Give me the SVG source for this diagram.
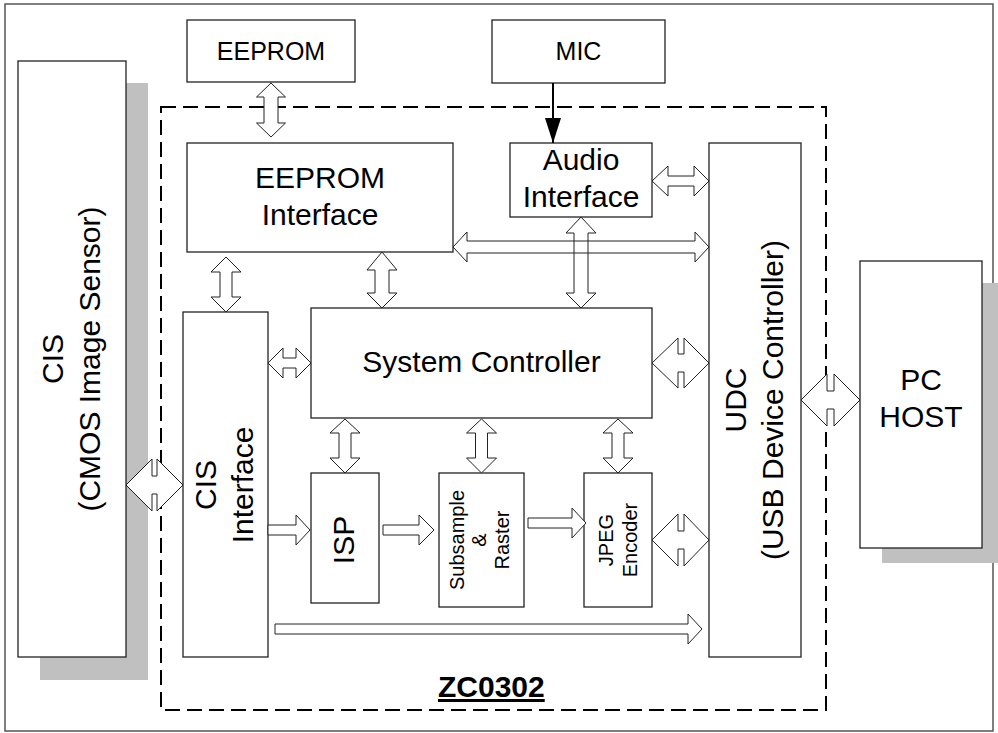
<svg xmlns="http://www.w3.org/2000/svg" width="998" height="733" viewBox="0 0 998 733">
<style>
.box{fill:#fff;stroke:#222;stroke-width:1.3}
.shadow{fill:#c0c0c0;stroke:none}
.arr{fill:#fff;stroke:#222;stroke-width:1}
.arrn{fill:none;stroke:#222;stroke-width:1}
.t{font-family:"Liberation Sans",Arial,sans-serif;fill:#000;text-anchor:middle}
.t30{font-size:30px}
.t25{font-size:25px}
.t20{font-size:20px}
</style>
<defs>
<marker id="ah" markerWidth="26" markerHeight="16" refX="25" refY="8" orient="auto" markerUnits="userSpaceOnUse">
<path d="M0,0 L25,8 L0,16 Z" fill="#000"/>
</marker>
</defs>
<rect x="5" y="4" width="988" height="727" fill="#fff" stroke="#555" stroke-width="1.5"/>
<rect x="161" y="107" width="665" height="603" fill="none" stroke="#000" stroke-width="2" stroke-dasharray="15 7"/>

<g id="cis">
<rect class="shadow" x="40" y="83" width="108" height="597"/>
<rect class="box" x="18" y="61" width="108" height="596"/>
<g transform="translate(72,359) rotate(-90)">
<text class="t t30" x="0" y="-9">CIS</text>
<text class="t t30" x="0" y="28">(CMOS Image Sensor)</text>
</g>
</g>

<g id="eeprom">
<rect class="box" x="187" y="20" width="168" height="62"/>
<text class="t t25" x="271" y="60">EEPROM</text>
</g>

<g id="mic">
<rect class="box" x="492" y="20" width="173" height="63"/>
<text class="t t25" x="578.5" y="60">MIC</text>
</g>

<g id="eeprom-if">
<rect class="box" x="187" y="143" width="266" height="109"/>
<text class="t t30" x="320" y="188">EEPROM</text>
<text class="t t30" x="320" y="225">Interface</text>
</g>

<g id="audio-if">
<rect class="box" x="510" y="143" width="142" height="74"/>
<text class="t t30" x="581" y="170">Audio</text>
<text class="t t30" x="581" y="207">Interface</text>
</g>

<g id="udc">
<rect class="box" x="709" y="143" width="92" height="514"/>
<g transform="translate(755,400) rotate(-90)">
<text class="t t30" x="0" y="-9">UDC</text>
<text class="t t30" x="0" y="28">(USB Device Controller)</text>
</g>
</g>

<g id="cis-if">
<rect class="box" x="183" y="312" width="85" height="345"/>
<g transform="translate(225.5,485) rotate(-90)">
<text class="t t30" x="0" y="-9.5">CIS</text>
<text class="t t30" x="0" y="27.5">Interface</text>
</g>
</g>

<g id="sysctrl">
<rect class="box" x="311" y="308" width="341" height="110"/>
<text class="t t30" x="481.5" y="372">System Controller</text>
</g>

<g id="isp">
<rect class="box" x="311" y="473" width="68" height="130"/>
<g transform="translate(345,540) rotate(-90)">
<text class="t t30" x="0" y="9">ISP</text>
</g>
</g>

<g id="subsample">
<rect class="box" x="439" y="473" width="85" height="134"/>
<g transform="translate(481.5,540) rotate(-90)">
<text class="t t20" x="0" y="-17.5">Subsample</text>
<text class="t t20" x="0" y="4.5">&amp;</text>
<text class="t t20" x="0" y="27.5">Raster</text>
</g>
</g>

<g id="jpeg">
<rect class="box" x="584" y="473" width="68" height="134"/>
<g transform="translate(618,540) rotate(-90)">
<text class="t t20" x="0" y="-5">JPEG</text>
<text class="t t20" x="0" y="19">Encoder</text>
</g>
</g>

<g id="pchost">
<rect class="shadow" x="882" y="283" width="122" height="280"/>
<rect class="box" x="860" y="261" width="122" height="287"/>
<text class="t t30" x="921" y="390">PC</text>
<text class="t t30" x="921" y="427">HOST</text>
</g>

<g id="label">
<text x="438" y="697" font-family="'Liberation Sans',Arial,sans-serif" font-size="30" font-weight="bold" text-decoration="underline" fill="#000">ZC0302</text>
</g>

<g id="connectors">
<line x1="553" y1="83" x2="553" y2="143" stroke="#000" stroke-width="2" marker-end="url(#ah)"/>
<polygon class="arr" points="271,83 285.5,97 278,97 278,123 285.5,123 271,137 256.5,123 264,123 264,97 256.5,97"/>
<polygon class="arr" points="226,257 241,272 232,272 232,297 241,297 226,312 211,297 220,297 220,272 211,272"/>
<polygon class="arr" points="382,252 397,270 389,270 389,293 397,293 382,308 367,293 375,293 375,270 367,270"/>
<polygon class="arr" points="453,247 467,232 467,241 695,241 695,232 709,247 695,262 695,253 467,253 467,262"/>
<polygon class="arrn" points="581,217 596,233 588,233 588,293 596,293 581,308 566,293 574,293 574,233 566,233"/>
<polygon class="arr" points="652,181 668,166 668,176 694,176 694,166 709,181 694,196 694,186 668,186 668,196"/>
<polygon class="arr" points="268,363 283,348 283,358 296,358 296,348 311,363 296,378 296,368 283,368 283,378"/>
<polygon class="arr" points="652,363 678,338 678,354 684,354 684,338 709,363 684,388 684,372 678,372 678,388"/>
<polygon class="arr" points="126,485 152,459 152,476 157,476 157,459 183,485 157,511 157,494 152,494 152,511"/>
<polygon class="arr" points="652,540 678,514 678,531 684,531 684,514 709,540 684,566 684,549 678,549 678,566"/>
<polygon class="arr" points="801,400 827,374 827,391 834,391 834,374 860,400 834,426 834,409 827,409 827,426"/>
<polygon class="arr" points="345,419 360,433 351,433 351,458 360,458 345,473 330,458 339,458 339,433 330,433"/>
<polygon class="arr" points="481.5,419 496.5,433 487.5,433 487.5,458 496.5,458 481.5,473 466.5,458 475.5,458 475.5,433 466.5,433"/>
<polygon class="arr" points="618,419 633,433 624,433 624,458 633,458 618,473 603,458 612,458 612,433 603,433"/>
<polygon class="arr" points="268,525 296,525 296,515 310,530 296,545 296,535 268,535"/>
<polygon class="arr" points="383,525 419,525 419,515 434,530 419,545 419,535 383,535"/>
<polygon class="arr" points="528,518 572,518 572,508 586,523 572,538 572,528 528,528"/>
<polygon class="arr" points="275,624 688,624 688,614 702,629 688,644 688,634 275,634"/>
</g>
</svg>
